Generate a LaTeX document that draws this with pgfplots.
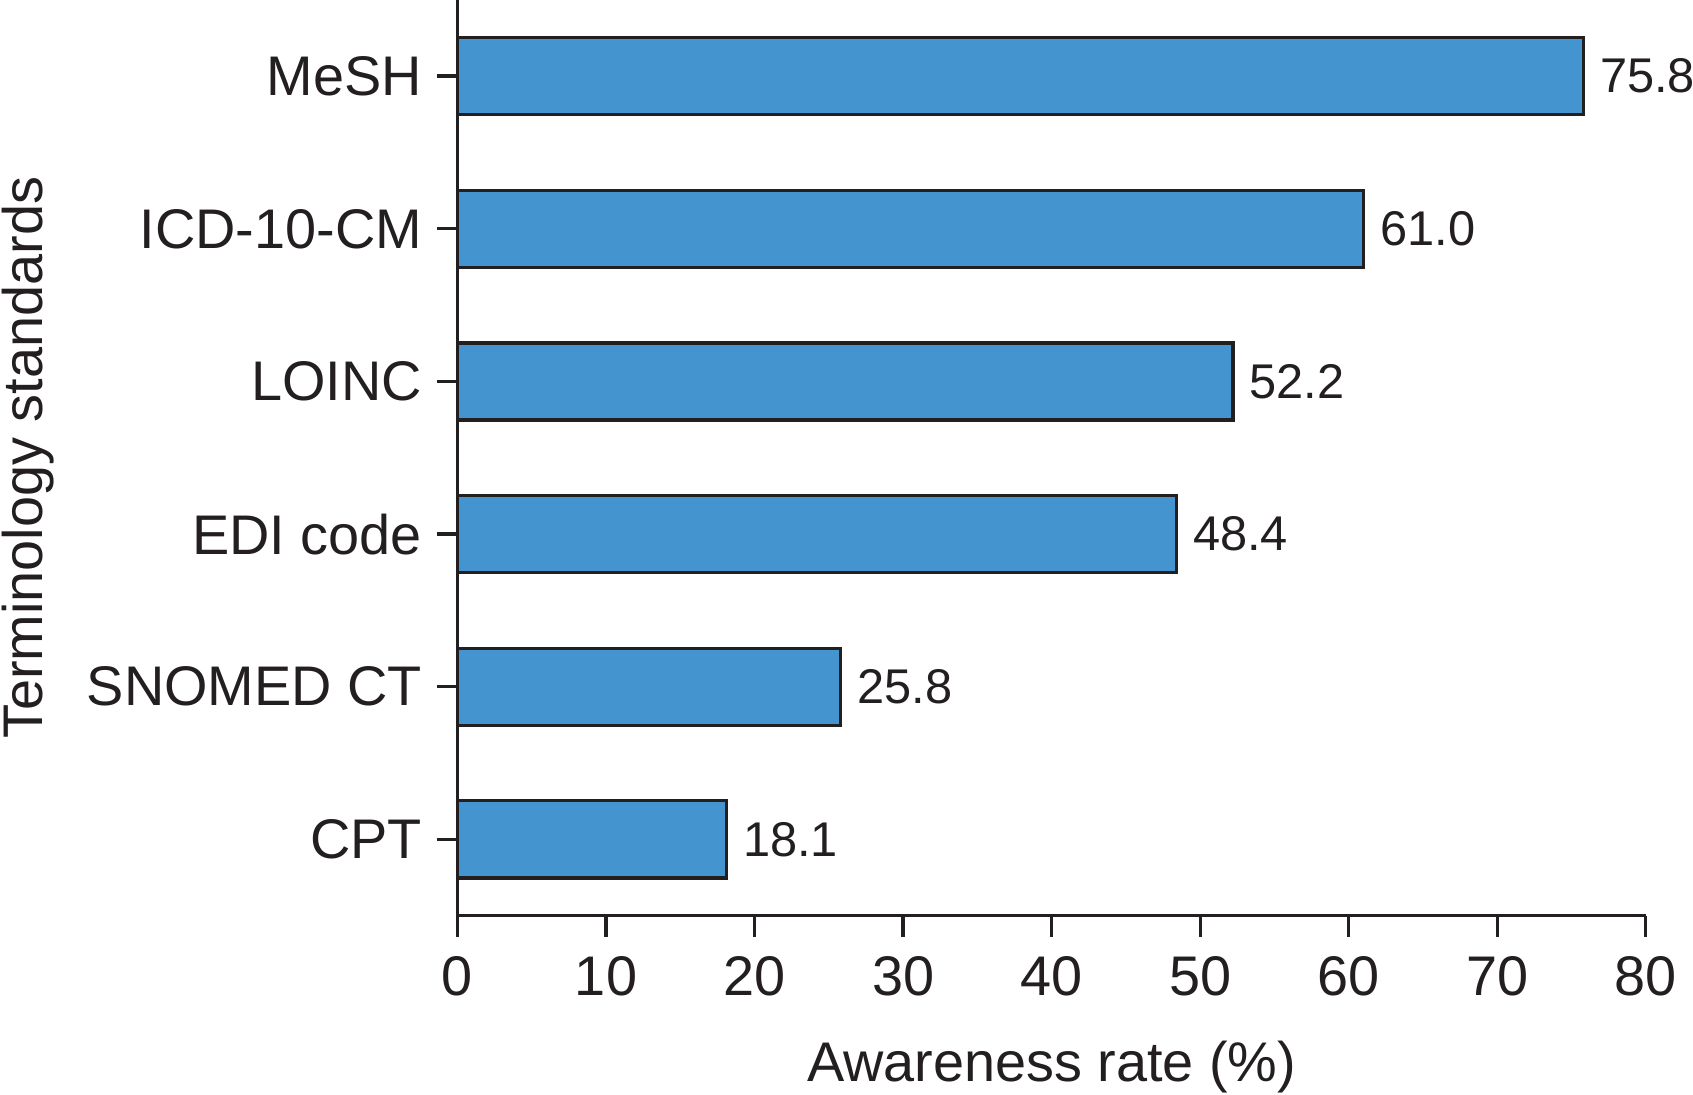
\documentclass[border=0pt]{standalone}
\usepackage{pgfplots}
\pgfplotsset{compat=1.18}
\usepackage{fontspec}
\setmainfont{Liberation Sans}

\definecolor{barblue}{RGB}{68,148,208}
\definecolor{ink}{RGB}{35,31,32}

\pgfplotstableread{
y  rate
0  18.1
1  25.8
2  48.4
3  52.2
4  61.0
5  75.8
}\awareness

\begin{document}
\begin{tikzpicture}[font=\fontsize{13.4}{16}\selectfont, color=ink]
\begin{axis}[
    at={(0,0)}, anchor=south west,
    scale only axis,
    width=285.2pt, height=219.8pt,
    xbar, bar width=18.5pt,
    xmin=0, xmax=80, ymin=-0.5, ymax=5.5,
    axis x line*=bottom, axis y line*=left,
    axis line style={line width=0.8pt, ink, -},
    tick style={line width=0.8pt, ink},
    tick align=outside, major tick length=5pt,
    xtick={0,10,...,80},
    ytick={0,1,2,3,4,5},
    yticklabels={CPT, SNOMED CT, EDI code, LOINC, ICD-10-CM, MeSH},
    /pgf/number format/assume math mode=true,
    ticklabel style={font=\fontsize{13.4}{16}\selectfont, text=ink},
    xticklabel shift=1.3pt,
    xlabel={Awareness rate (\%)},
    ylabel={Terminology standards},
    xlabel shift=3.8pt,
    ylabel shift=1pt,
    label style={font=\fontsize{13.4}{16}\selectfont, text=ink},
    nodes near coords={\pgfmathprintnumber[fixed,fixed zerofill,precision=1]{\pgfplotspointmeta}},
    point meta=x,
    nodes near coords style={font=\fontsize{11.7}{14}\selectfont, text=ink, anchor=west, xshift=0.3pt},
    clip=false,
]
\addplot[fill=barblue, draw=ink, line width=0.8pt] table[x=rate, y=y] {\awareness};
\end{axis}
\pgfresetboundingbox
\useasboundingbox (-109.8pt,-42.8pt) rectangle ++(406.32pt,262.56pt);
\end{tikzpicture}
\end{document}
